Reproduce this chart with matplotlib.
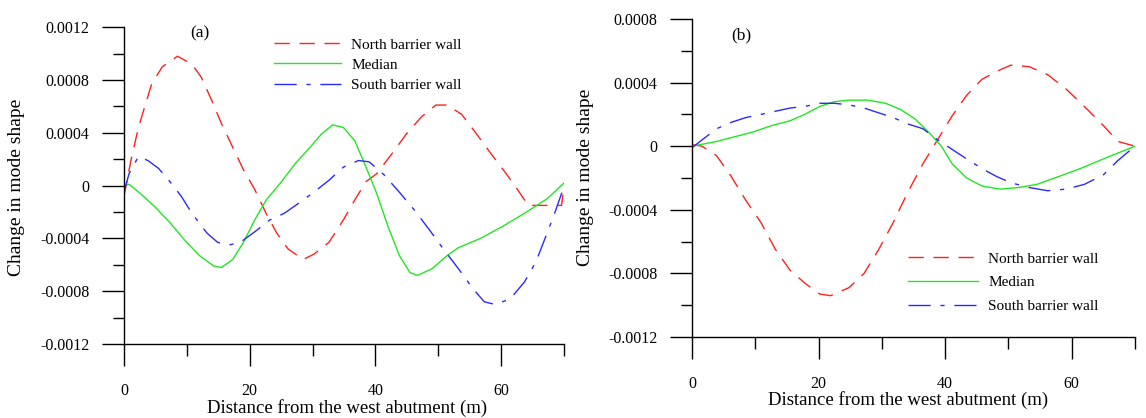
import matplotlib
matplotlib.use('Agg')
from matplotlib import pyplot as plt

plt.rcParams['font.family'] = ['Liberation Serif', 'DejaVu Serif']

# ---- panel (a) data ----
a_north_x = [0, 1.1, 2.3, 4.4, 6.1, 8.5, 10.8, 12.3, 14.0, 15.5, 17.3, 19.0, 20.8, 22.6, 24.3, 26.1,
             28.5, 30.2, 32.6, 34.9, 36.7, 38.5, 40.2, 42.6, 44.9, 47.3, 49.6, 51.4, 53.7, 56.1,
             58.4, 60.8, 62.6, 64.3, 66.0, 68.4, 69.6, 70]
a_north_y = [-0.00008, 0.00019, 0.00044, 0.00077, 0.0009, 0.00098, 0.00092, 0.00082, 0.00064, 0.00047,
             0.00029, 0.00012, -0.00003, -0.00021, -0.00036, -0.00048, -0.00056, -0.00052, -0.00043,
             -0.00026, -0.00011, 0.00003, 0.00009, 0.00024, 0.00039, 0.00052, 0.00061, 0.00061,
             0.00054, 0.00039, 0.00024, 0.00009, -0.00003, -0.00015, -0.00015, -0.00015, -0.00015, 0.0]

a_median_x = [0, 0.8, 2.6, 4.9, 7.3, 9.6, 12.0, 14.3, 15.5, 17.3, 19.0, 20.8, 22.6, 24.9, 27.3, 29.6,
              31.4, 33.2, 34.9, 36.7, 38.5, 40.2, 42.0, 43.8, 45.5, 46.7, 49.0, 51.4, 53.2, 56.7,
              60.2, 63.7, 67.3, 70]
a_median_y = [0.0, 0.00001, -0.00006, -0.00016, -0.00028, -0.00041, -0.00053, -0.00061, -0.00062,
              -0.00056, -0.00043, -0.00026, -0.00011, 0.00002, 0.00017, 0.00029, 0.00039, 0.00046,
              0.00044, 0.00034, 0.00014, -0.00006, -0.00031, -0.00053, -0.00066, -0.00068, -0.00063,
              -0.00053, -0.00047, -0.0004, -0.00031, -0.00021, -0.0001, 0.00002]

a_south_x = [0, 0.8, 2.3, 3.8, 5.5, 7.3, 9.1, 10.8, 13.2, 14.9, 16.7, 18.5, 20.8, 23.2, 25.5, 27.9,
             30.2, 32.6, 34.9, 37.3, 39.0, 41.4, 43.8, 46.1, 48.5, 50.8, 53.2, 55.5, 57.3, 59.0,
             61.4, 63.7, 65.5, 67.3, 68.5, 69.6, 70]
a_south_y = [-0.00005, 0.00009, 0.00022, 0.00019, 0.00013, 0.00003, -0.00008, -0.00021, -0.00036,
             -0.00043, -0.00045, -0.00043, -0.00035, -0.00026, -0.00021, -0.00013, -0.00005, 0.00004,
             0.00014, 0.00019, 0.00018, 0.00008, -0.00005, -0.00018, -0.00033, -0.00048, -0.00063,
             -0.00078, -0.00088, -0.0009, -0.00086, -0.00073, -0.00058, -0.00036, -0.00021, -0.00006, 0.0]

# ---- panel (b) data ----
b_north_x = [0, 1.6, 3.9, 6.2, 8.5, 10.9, 13.2, 15.5, 17.8, 20.2, 21.9, 24.8, 27.2, 29.5, 31.8, 34.1,
             36.5, 38.8, 41.1, 43.4, 45.8, 48.1, 50.4, 53.3, 56.2, 59.1, 62.0, 65.0, 67.3, 70]
b_north_y = [0.00001, 0.0, -0.00006, -0.00019, -0.00034, -0.00048, -0.00065, -0.00078, -0.00086,
             -0.00093, -0.00094, -0.00089, -0.0008, -0.00065, -0.00048, -0.00029, -0.00011, 0.00004,
             0.00019, 0.00032, 0.00042, 0.00047, 0.00051, 0.0005, 0.00045, 0.00036, 0.00025, 0.00013,
             0.00003, 0.0]

b_median_x = [0, 3.9, 6.8, 9.7, 12.6, 15.5, 17.8, 20.2, 22.5, 24.8, 27.7, 30.6, 33.0, 35.3, 37.6,
              39.4, 41.1, 43.4, 45.8, 48.7, 51.6, 54.5, 58.0, 61.4, 65.0, 70]
b_median_y = [0.0, 0.00003, 0.00006, 0.00009, 0.00013, 0.00016, 0.0002, 0.00025, 0.00028, 0.00029,
              0.00029, 0.00027, 0.00023, 0.00017, 0.00008, 0.0, -0.00011, -0.0002, -0.00025, -0.00027,
              -0.00026, -0.00024, -0.00019, -0.00014, -0.00008, 0.0]

b_south_x = [0, 1.6, 3.9, 6.2, 8.5, 10.9, 13.2, 15.5, 17.8, 20.2, 22.5, 24.8, 27.2, 29.5, 31.8, 34.1,
             36.5, 38.8, 41.1, 43.4, 45.8, 48.1, 50.4, 53.3, 56.2, 59.1, 62.0, 65.0, 67.3, 70]
b_south_y = [-0.00001, 0.00004, 0.00011, 0.00015, 0.00018, 0.0002, 0.00022, 0.00024, 0.00025, 0.00027,
             0.00027, 0.00026, 0.00024, 0.00021, 0.00018, 0.00014, 0.00011, 0.00004, -0.00002,
             -0.00008, -0.00014, -0.00019, -0.00023, -0.00026, -0.00028, -0.00027, -0.00024,
             -0.00018, -0.00009, 0.0]

labels = ['North barrier wall', 'Median', 'South barrier wall']

x_ticks = [0, 20, 40, 60]
x_minor = [10, 30, 50, 70]
a_yticks = [0.0012, 0.0008, 0.0004, 0, -0.0004, -0.0008, -0.0012]
a_ylabels = ['0.0012', '0.0008', '0.0004', '0', '-0.0004', '-0.0008', '-0.0012']
a_yminor = [0.001, 0.0006, 0.0002, -0.0002, -0.0006, -0.001]
b_yticks = [0.0008, 0.0004, 0, -0.0004, -0.0008, -0.0012]
b_ylabels = ['0.0008', '0.0004', '0', '-0.0004', '-0.0008', '-0.0012']
b_yminor = [0.0006, 0.0002, -0.0002, -0.0006, -0.001]

RED = '#ff2020'
GREEN = '#22e622'
BLUE = '#2a2aff'

fig = plt.figure(figsize=(11.46, 4.18), dpi=100)
ax1 = fig.add_axes([0.1082, 0.177, 0.384, 0.758])
ax2 = fig.add_axes([0.6038, 0.1938, 0.3866, 0.7607])


def style(ax, yt, yl, ym, ylim):
    for s in ['top', 'right']:
        ax.spines[s].set_visible(False)
    for s in ['left', 'bottom']:
        ax.spines[s].set_linewidth(1.0)
    ax.set_xlim(0, 70)
    ax.set_ylim(*ylim)
    ax.set_xticks(x_ticks)
    ax.set_xticks(x_minor, minor=True)
    ax.set_yticks(yt)
    ax.set_yticklabels(yl)
    ax.set_yticks(ym, minor=True)
    ax.tick_params(axis='y', which='major', direction='out', length=16, width=1, labelsize=11.5, pad=9)
    ax.tick_params(axis='y', which='minor', direction='out', length=8, width=1)
    ax.tick_params(axis='x', which='major', direction='out', length=16, width=1, labelsize=11.5, pad=12)
    ax.tick_params(axis='x', which='minor', direction='out', length=8.5, width=1)
    ax.set_xlabel('Distance from the west abutment (m)', fontsize=13.5)
    ax.set_ylabel('Change in mode shape', fontsize=14)


def draw(ax, nx, ny, mx, my, sx, sy):
    ax.plot(nx, ny, color=RED, lw=1.0, dashes=(11, 7), label=labels[0])
    ax.plot(mx, my, color=GREEN, lw=1.0, label=labels[1])
    ax.plot(sx, sy, color=BLUE, lw=1.0, dashes=(16, 7, 3, 7), label=labels[2])


draw(ax1, a_north_x, a_north_y, a_median_x, a_median_y, a_south_x, a_south_y)
style(ax1, a_yticks, a_ylabels, a_yminor, (-0.0012, 0.0012))
ax1.xaxis.set_label_coords(0.507, -0.173)
ax1.yaxis.set_label_coords(-0.225, 0.495)
ax1.text(200 / 1146, 1 - 33 / 418, '(a)', transform=fig.transFigure, fontsize=12.5,
         ha='center', va='center')
ax1.legend(loc='upper left', bbox_to_anchor=(274 / 1146, 1 - 38 / 418),
           bbox_transform=fig.transFigure, frameon=False, fontsize=11,
           handlelength=4.4, handletextpad=0.65, labelspacing=0.42,
           borderpad=0, borderaxespad=0)

draw(ax2, b_north_x, b_north_y, b_median_x, b_median_y, b_south_x, b_south_y)
style(ax2, b_yticks, b_ylabels, b_yminor, (-0.0012, 0.0008))
ax2.xaxis.set_label_coords(0.488, -0.170)
ax2.yaxis.set_label_coords(-0.221, 0.503)
ax2.text(741 / 1146, 1 - 35 / 418, '(b)', transform=fig.transFigure, fontsize=12.5,
         ha='center', va='center')
ax2.legend(loc='upper left', bbox_to_anchor=(908 / 1146, 1 - 252 / 418),
           bbox_transform=fig.transFigure, frameon=False, fontsize=11,
           handlelength=4.6, handletextpad=0.65, labelspacing=0.65,
           borderpad=0, borderaxespad=0)

plt.savefig('out.png', dpi=100)
